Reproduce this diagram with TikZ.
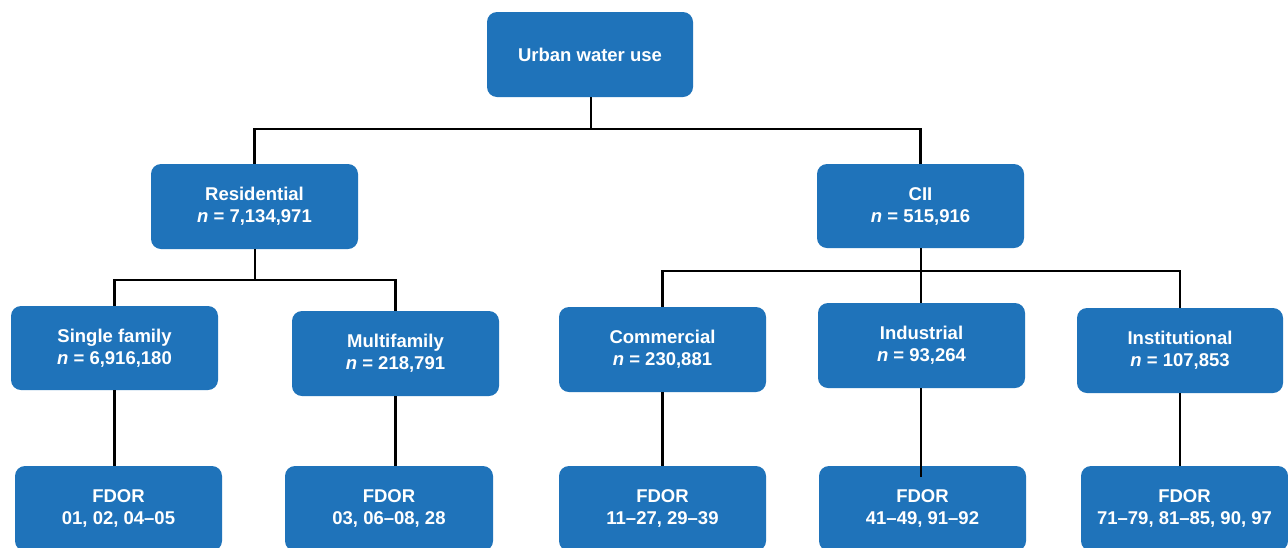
\documentclass[tikz,border=0pt]{standalone}
\usepackage{fontspec}
\setmainfont{Liberation Sans}
\definecolor{boxblue}{RGB}{31,115,186}
\begin{document}
\begin{tikzpicture}[x=1pt,y=-1pt,
  box/.style={fill=boxblue, rounded corners=10pt, minimum width=207pt, minimum height=85pt,
    text=white, align=center, inner sep=0pt,
    font=\fontsize{18.5}{22}\selectfont\bfseries},
  conn/.style={draw=black, line width=2.3pt}]
\useasboundingbox (0,0) rectangle (1288,547);
\clip (0,0) rectangle (1288,547);
\fill[white] (0,0) rectangle (1288,547);

\node[box, minimum width=206pt] (urban) at (590,54.5) {Urban water use};
\node[box] (res) at (254.5,206.5) {Residential\\\textit{n} = 7,134,971};
\node[box, minimum height=84pt] (cii) at (920.5,206) {CII\\\textit{n} = 515,916};
\node[box, minimum height=84pt] (single) at (114.5,348) {Single family\\\textit{n} = 6,916,180};
\node[box] (multi) at (395.5,353.5) {Multifamily\\\textit{n} = 218,791};
\node[box] (comm) at (662.5,349.5) {Commercial\\\textit{n} = 230,881};
\node[box] (ind) at (921.5,345.5) {Industrial\\\textit{n} = 93,264};
\node[box, minimum width=206pt] (inst) at (1180,350.5) {Institutional\\\textit{n} = 107,853};

\node[box] (f1) at (118.5,508.5) {FDOR\\01, 02, 04--05};
\node[box, minimum width=208pt] (f2) at (389,508.5) {FDOR\\03, 06--08, 28};
\node[box] (f3) at (662.5,508.5) {FDOR\\11--27, 29--39};
\node[box] (f4) at (922.5,508.5) {FDOR\\41--49, 91--92};
\node[box] (f5) at (1184.5,508.5) {FDOR\\71--79, 81--85, 90, 97};

\coordinate (j1) at (591,129);
\coordinate (j2) at (255,280);
\coordinate (j3) at (921,271);
\coordinate (indend) at (921,477);

\draw[conn] (urban.south -| j1) -- (j1) -| (res.north);
\draw[conn] (j1) -| (cii.north);
\draw[conn] (res.south -| j2) -- (j2) -| (single.north);
\draw[conn] (j2) -| (multi.north);
\draw[conn] (cii.south -| j3) -- (j3) -| (comm.north);
\draw[conn] (j3) -| (inst.north);
\draw[conn] (j3) -- (ind.north -| j3);

\draw[conn] (single.south) -- (single.south |- f1.north);
\draw[conn] (multi.south) -- (multi.south |- f2.north);
\draw[conn] (comm.south) -- (f3.north);
\draw[conn] (ind.south -| indend) -- (indend);
\draw[conn] (inst.south) -- (inst.south |- f5.north);
\end{tikzpicture}
\end{document}
